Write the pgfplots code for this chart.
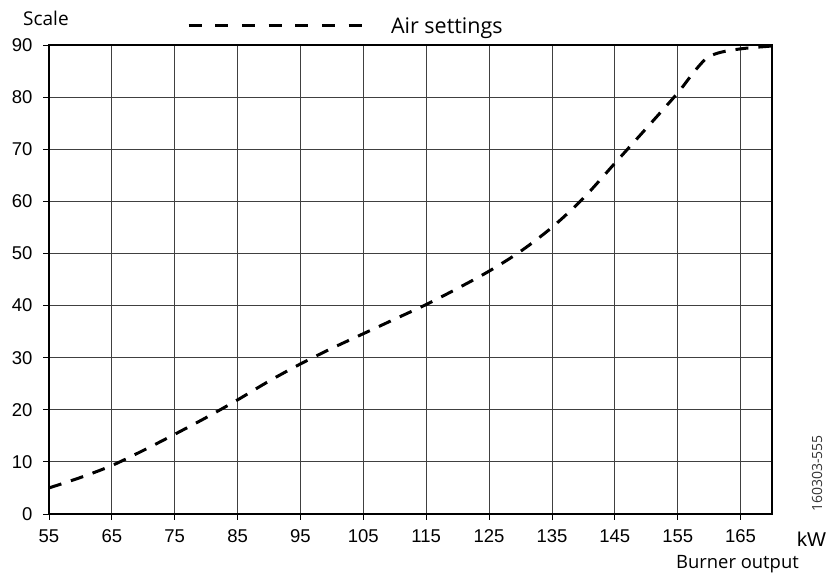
\documentclass[border=0pt]{standalone}
\usepackage{fontspec}
\setmainfont{Open Sans}
\newfontfamily\arialfont{Liberation Sans}
\usepackage{pgfplots}
\pgfplotsset{compat=1.18}
\usetikzlibrary{calc}

\pgfplotstableread{
x y
55 5.0
60 7.0
65 9.3
70 12.2
75 15.3
80 18.5
85 21.9
90 25.5
95 28.8
100 31.8
105 34.6
110 37.4
115 40.2
120 43.3
125 46.6
130 50.4
135 55.0
140 60.6
145 67.3
150 74.0
155 80.8
157.5 84.7
159.5 87.4
161 88.3
163 88.9
166 89.4
170 89.8
}\airdata

\begin{document}
\begin{tikzpicture}
\begin{axis}[
  scale only axis,
  width=723bp, height=469bp,
  xmin=55, xmax=170, ymin=0, ymax=90,
  xtick={55,65,...,165},
  ytick={0,10,...,90},
  grid=major,
  grid style={black!75, line width=0.9bp},
  axis line style={black, line width=1.2bp},
  tick align=outside,
  major tick length=6bp,
  tick style={black, line width=0.9bp},
  xtick pos=bottom, ytick pos=left,
  /pgf/number format/assume math mode=true,
  ticklabel style={font=\arialfont\fontsize{18.5bp}{21bp}\selectfont},
  xticklabel style={yshift=-6bp},
  yticklabel style={xshift=-7bp},
  legend style={draw=none, fill=none, at={(0.191,1.0405)}, anchor=west,
    inner sep=0pt, outer sep=0pt, nodes={inner sep=0pt},
    font=\fontsize{21.5bp}{24bp}\selectfont},
  legend image code/.code={%
    \draw[#1, dash pattern=on 13bp off 13.67bp] (0bp,0bp) -- (173bp,0bp);
    \path (201bp,0bp);},
]
\addplot[black, line width=3bp, dash pattern=on 13bp off 10bp, smooth] table[x=x, y=y] {\airdata};
\addlegendentry{Air settings}
\coordinate (sw) at (rel axis cs:0,0);
\coordinate (ne) at (rel axis cs:1,1);
\end{axis}
\node[anchor=base west, inner sep=0pt, font=\fontsize{19bp}{22bp}\selectfont] at ($(sw)+(-26bp,488bp)$) {Scale};
\node[anchor=base west, inner sep=0pt, font=\arialfont\fontsize{20bp}{23bp}\selectfont] at ($(sw)+(748bp,-33bp)$) {kW};
\node[anchor=base east, inner sep=0pt, font=\fontsize{18.4bp}{22bp}\selectfont] at ($(sw)+(750bp,-55bp)$) {Burner output};
\node[anchor=base west, rotate=90, inner sep=0pt, text=black!80, font=\fontsize{14bp}{16bp}\selectfont] at ($(sw)+(773bp,2bp)$) {160303-555};
\pgfresetboundingbox
\path[use as bounding box] ($(sw)+(-49bp,-62bp)$) rectangle ($(ne)+(57bp,45bp)$);
\end{tikzpicture}
\end{document}
